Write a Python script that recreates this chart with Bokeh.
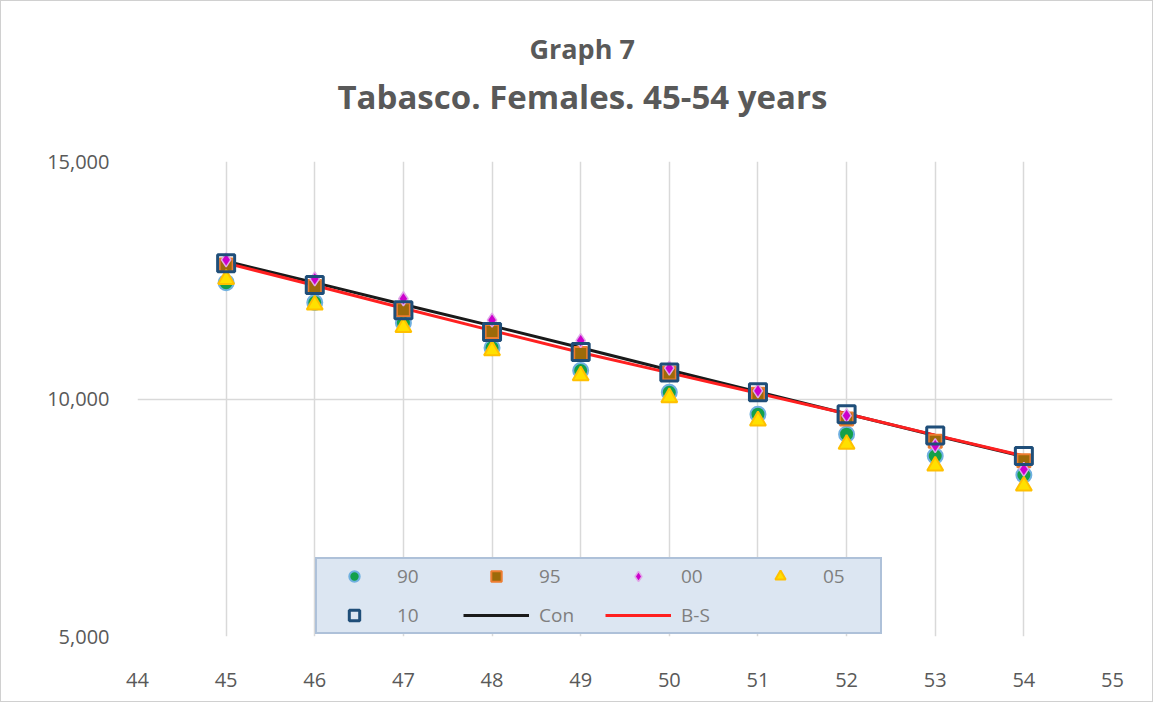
from bokeh.plotting import figure
from bokeh.models import (Legend, LegendItem, Title, FixedTicker, NumeralTickFormatter,
                          Range1d, LinearAxis)
from bokeh.embed import file_html
from bokeh.resources import INLINE

ages = [45, 46, 47, 48, 49, 50, 51, 52, 53, 54]
v90 = [12450, 12030, 11600, 11080, 10600, 10140, 9680, 9260, 8800, 8400]
v95 = [12820, 12370, 11880, 11420, 10960, 10550, 10100, 9580, 9110, 8700]
v00 = [12930, 12530, 12110, 11660, 11230, 10650, 10170, 9650, 9020, 8520]
v05 = [12520, 11980, 11510, 11020, 10490, 10030, 9540, 9050, 8590, 8170]
v10 = [12860, 12400, 11870, 11410, 10990, 10560, 10140, 9680, 9230, 8800]
con = [12900, 12450, 11990, 11540, 11080, 10610, 10150, 9690, 9230, 8790]
bs = [12860, 12390, 11910, 11440, 10980, 10550, 10120, 9690, 9240, 8800]
x_ticks = list(range(44, 56))
y_ticks = [5000, 10000, 15000]

FONT = "Open Sans"
GRAY = "#595959"

p = figure(width=1153, height=702, output_backend="svg", toolbar_location=None,
           x_range=Range1d(44, 55), y_range=Range1d(5000, 15000),
           min_border_left=136, min_border_right=42, min_border_bottom=67, min_border_top=160)

xax = p.below[0]
yax = p.left[0]
xax.ticker = FixedTicker(ticks=x_ticks)
yax.ticker = FixedTicker(ticks=y_ticks)
yax.formatter = NumeralTickFormatter(format="0,0")
for ax in (xax, yax):
    ax.axis_line_color = None
    ax.major_tick_line_color = None
    ax.minor_tick_line_color = None
    ax.major_label_text_font = FONT
    ax.major_label_text_font_size = "20px"
    ax.major_label_text_color = GRAY
xax.major_label_standoff = 30
yax.major_label_standoff = 22
p.xgrid.grid_line_color = "#d9d9d9"
p.ygrid.grid_line_color = "#d9d9d9"
p.xgrid.grid_line_width = 1.5
p.ygrid.grid_line_width = 1.5
p.outline_line_color = None

# invisible axis above (one hidden tick, empty label): keeps a gap between subtitle and plot
spacer = LinearAxis(ticker=FixedTicker(ticks=[49.5]), major_tick_out=40, major_tick_in=0,
                    axis_line_color=None, major_tick_line_color=None,
                    minor_tick_line_color=None, major_label_standoff=0,
                    major_label_text_font_size="1px", major_label_overrides={49.5: ""})
p.add_layout(spacer, "above")
p.add_layout(Title(text="Tabasco.  Females. 45-54 years", align="left", offset=200,
                   text_font=FONT, text_font_size="33px", text_font_style="bold",
                   text_color=GRAY, standoff=6), "above")
p.add_layout(Title(text="Graph 7", align="left", offset=392,
                   text_font=FONT, text_font_size="27px", text_font_style="bold",
                   text_color=GRAY, standoff=4), "above")

r_con = p.line(ages, con, line_color="#1a1a1a", line_width=3)
r_bs = p.line(ages, bs, line_color="#ff2020", line_width=3)
r90 = p.scatter(ages, v90, marker="circle", size=15, fill_color="#13a04a", line_color="#6fb0e0", line_width=2)
r95 = p.scatter(ages, v95, marker="square", size=13, fill_color="#9c6a0a", line_color="#ed7d31", line_width=2)
r00 = p.scatter(ages, v00, marker="diamond", size=14, fill_color="#cc00cc", line_color="#e0a8e8", line_width=1.5)
r05 = p.scatter(ages, v05, marker="triangle", size=16, fill_color="#ffe000", line_color="#ffc000", line_width=2)
r10 = p.scatter(ages, v10, marker="square", size=17, fill_alpha=0, line_color="#1f4e79", line_width=3)

# column-major order so that rows read: 90 95 00 05 / 10 Con B-S
legend = Legend(items=[
    LegendItem(label="90", renderers=[r90]),
    LegendItem(label="10", renderers=[r10]),
    LegendItem(label="95", renderers=[r95]),
    LegendItem(label="Con", renderers=[r_con]),
    LegendItem(label="00", renderers=[r00]),
    LegendItem(label="B-S", renderers=[r_bs]),
    LegendItem(label="05", renderers=[r05]),
], ncols=4, location=(178, 2))
legend.glyph_width = 66
legend.glyph_height = 26
legend.label_standoff = 10
legend.label_width = 53
legend.label_height = 26
legend.spacing = 13
legend.padding = 4
legend.margin = 0
legend.label_text_font = FONT
legend.label_text_font_size = "19px"
legend.label_text_color = "#7f7f7f"
legend.background_fill_color = "#dce6f2"
legend.background_fill_alpha = 1
legend.border_line_color = "#7f9cc0"
legend.border_line_width = 2
p.add_layout(legend)

p.styles = {"border": "1.5px solid #d0d0d0"}

open("out.html", "w").write(file_html(p, INLINE))
